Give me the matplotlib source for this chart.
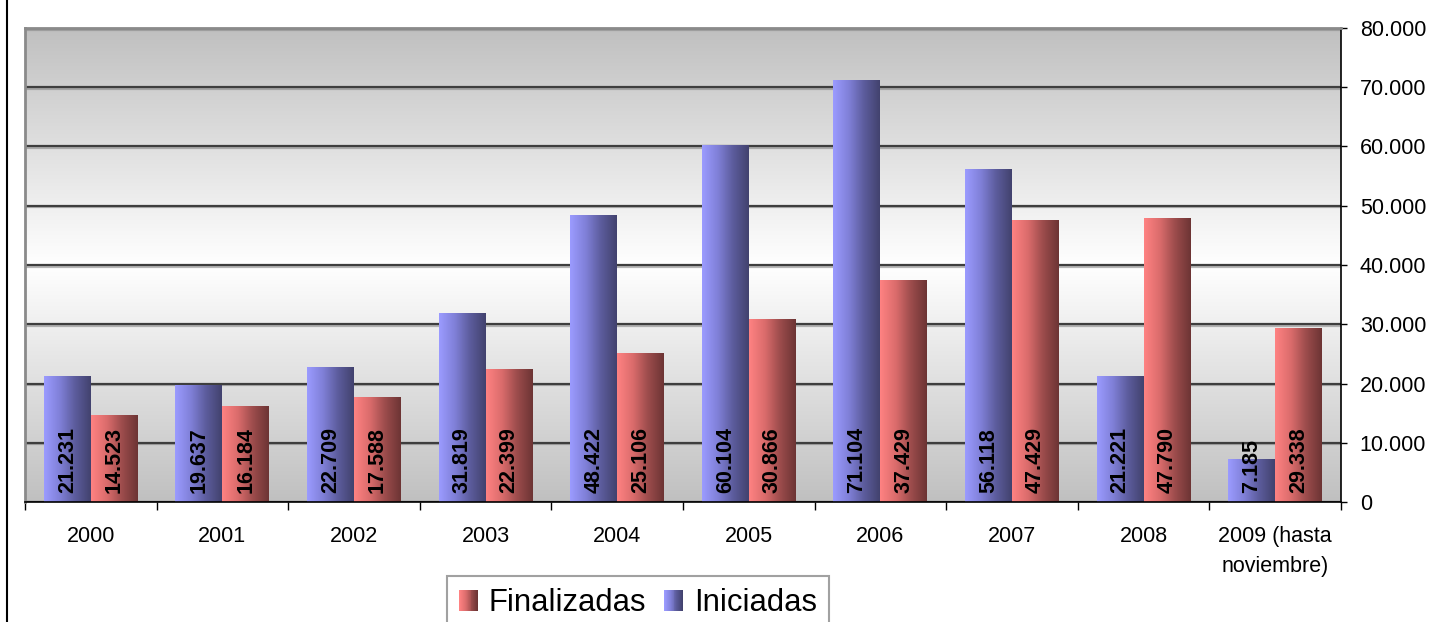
import numpy as np
import matplotlib
matplotlib.use("Agg")
import matplotlib.pyplot as plt
from matplotlib.legend_handler import HandlerBase
from matplotlib.patches import Rectangle
from matplotlib.lines import Line2D
from matplotlib.colors import LinearSegmentedColormap
import matplotlib.patheffects as pe

plt.rcParams['font.family'] = ['Liberation Sans', 'DejaVu Sans']

# data
years = ['2000', '2001', '2002', '2003', '2004', '2005', '2006', '2007', '2008',
         '2009 (hasta\nnoviembre)']
iniciadas = [21231, 19637, 22709, 31819, 48422, 60104, 71104, 56118, 21221, 7185]
finalizadas = [14523, 16184, 17588, 22399, 25106, 30866, 37429, 47429, 47790, 29338]

blue_grad = LinearSegmentedColormap.from_list('b', ['#9b9bff', '#8080d8', '#5c5c9c', '#42426e'])
red_grad = LinearSegmentedColormap.from_list('r', ['#ff8282', '#db6c6c', '#9c4c4c', '#6c3434'])

W, H = 1439, 622
fig = plt.figure(figsize=(W / 100, H / 100), dpi=100)
ax = fig.add_axes([25 / W, 1 - 502 / H, (1341 - 25) / W, (502 - 28) / H])

x = np.arange(len(years))
w = 0.357
ax.set_xlim(-0.5, len(years) - 0.5)
ax.set_ylim(0, 80000)

# background: gray -> white -> gray
t = np.linspace(0, 1, 256)
shade = 255 - 63 * np.abs(t - 0.5) * 2
bg = np.dstack([shade, shade, shade]).reshape(256, 1, 3) / 255.0
ax.imshow(bg, extent=[-0.5, len(years) - 0.5, 0, 80000], aspect='auto',
          origin='upper', zorder=0, interpolation='bilinear')

# gridlines
ax.set_yticks(np.arange(0, 80001, 10000))
ax.set_axisbelow(True)
ax.yaxis.grid(True, color='#3e3e3e', lw=1.6,
              path_effects=[pe.SimpleLineShadow(offset=(0, -1.2), shadow_color='#888888', alpha=0.6),
                            pe.Normal()])

grad = np.linspace(0, 1, 128).reshape(1, -1)


def gradient_bars(bars, cmap):
    for b in bars:
        x0, y0 = b.get_x(), b.get_y()
        bw, bh = b.get_width(), b.get_height()
        b.set_facecolor('none')
        b.set_edgecolor('none')
        ax.imshow(grad, cmap=cmap, extent=[x0, x0 + bw, y0, y0 + bh],
                  aspect='auto', zorder=2, interpolation='bilinear')


bars_i = ax.bar(x - w / 2, iniciadas, w, zorder=2)
bars_f = ax.bar(x + w / 2, finalizadas, w, zorder=2)
gradient_bars(bars_i, blue_grad)
gradient_bars(bars_f, red_grad)
ax.set_xlim(-0.5, len(years) - 0.5)
ax.set_ylim(0, 80000)


def fmt(v):
    return f"{v:,.0f}".replace(',', '.')


for xi, v in zip(x - w / 2, iniciadas):
    ax.annotate(fmt(v), (xi, 0), xytext=(0, 6.5), textcoords='offset points',
                rotation=90, ha='center', va='bottom', fontsize=15.5,
                fontweight='bold', zorder=3)
for xi, v in zip(x + w / 2, finalizadas):
    ax.annotate(fmt(v), (xi, 0), xytext=(0, 6.5), textcoords='offset points',
                rotation=90, ha='center', va='bottom', fontsize=15.5,
                fontweight='bold', zorder=3)

# axes styling
ax.yaxis.tick_right()
ax.set_yticklabels([fmt(v) for v in np.arange(0, 80001, 10000)])
ax.tick_params(axis='y', right=True, left=False, length=4, width=1,
               pad=9.5, labelsize=15.5, colors='black')
ax.set_xticks(x)
ax.set_xticklabels(years, fontsize=15.5, linespacing=1.6)
ax.tick_params(axis='x', which='major', length=0, pad=17)
ax.set_xticks(np.arange(-0.5, len(years)), minor=True)
ax.tick_params(axis='x', which='minor', length=6, width=1, color='black')

for s in ['left', 'top']:
    ax.spines[s].set_color('#8a8a8a')
    ax.spines[s].set_linewidth(2)
for s in ['right', 'bottom']:
    ax.spines[s].set_color('black')
    ax.spines[s].set_linewidth(1.2)


# legend with gradient squares
class GradHandler(HandlerBase):
    def __init__(self, cmap):
        super().__init__()
        self.cmap = cmap

    def create_artists(self, legend, orig_handle, xdescent, ydescent, width,
                       height, fontsize, trans):
        n = 20
        arts = []
        for i in range(n):
            r = Rectangle((-xdescent + width * i / n, -ydescent), width / n + 0.3,
                          height, facecolor=self.cmap(i / (n - 1)),
                          edgecolor='none', transform=trans)
            arts.append(r)
        return arts


h_f = Rectangle((0, 0), 1, 1)
h_i = Rectangle((0, 1), 1, 1)
leg = fig.legend([h_f, h_i], ['Finalizadas', 'Iniciadas'],
                 handler_map={h_f: GradHandler(red_grad), h_i: GradHandler(blue_grad)},
                 loc='upper left', bbox_to_anchor=(447 / W, 1 - 576 / H), ncol=2,
                 fontsize=22.3, frameon=True, fancybox=False, handlelength=0.6,
                 handleheight=0.64, handletextpad=0.35, columnspacing=0.58,
                 borderpad=0.4, borderaxespad=0)
leg.get_frame().set_edgecolor('#8a8a8a')
leg.get_frame().set_linewidth(1.5)

# left border of chart area
fig.add_artist(Line2D([7 / W, 7 / W], [0, 1], color='black', lw=1.5,
                      transform=fig.transFigure))

fig.savefig('out.png', dpi=100)
